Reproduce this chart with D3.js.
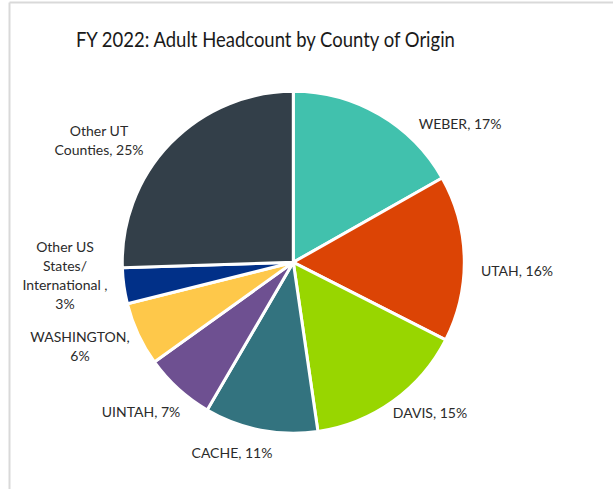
<!DOCTYPE html>
<html><head><meta charset="utf-8">
<script src="https://cdn.jsdelivr.net/npm/d3@7"></script>
<style>
html,body{margin:0;padding:0;background:#fff;}
text{font-family:Lato,"Open Sans",sans-serif;}
</style></head>
<body>
<svg id="chart" width="613" height="489"></svg>
<script>
// ---- data ----
const categories = ["WEBER","UTAH","DAVIS","CACHE","UINTAH","WASHINGTON","Other US States/ International ","Other UT Counties"];
const values = [16.8, 15.7, 15.2, 10.7, 6.7, 6.0, 3.4, 25.5];
const percentLabels = ["17%","16%","15%","11%","7%","6%","3%","25%"];
const colors = ["#41C1AD","#DC4405","#98D600","#33737F","#6E5091","#FEC84A","#013088","#333F49"];
// label text lines (as shown)
const labelLines = [
  ["WEBER, 17%"],
  ["UTAH, 16%"],
  ["DAVIS, 15%"],
  ["CACHE, 11%"],
  ["UINTAH, 7%"],
  ["WASHINGTON,","6%"],
  ["Other US","States/","International ,","3%"],
  ["Other UT","Counties, 25%"]
];
// ---- layout ----
const W = 613, H = 489;
const cx = 293.3, cy = 262.3, R = 171;
const labelAnchor = [[460,124],[517,271],[430,413],[232,453],[141,412],[80,346],[65,275],[99,140]];
const lineH = 19;

const svg = d3.select("#chart");
// border (top + left visible)
svg.append("line").attr("x1",9.5).attr("x2",613).attr("y1",2.5).attr("y2",2.5).attr("stroke","#d9d9d9").attr("stroke-width",2);
svg.append("line").attr("x1",9.5).attr("x2",9.5).attr("y1",2.5).attr("y2",489).attr("stroke","#d9d9d9").attr("stroke-width",2);

svg.append("text").attr("x",265.4).attr("y",46.7).attr("text-anchor","middle")
  .attr("font-size",20.5).attr("fill","#1a1a1a")
  .attr("textLength",379).attr("lengthAdjust","spacingAndGlyphs")
  .text("FY 2022: Adult Headcount by County of Origin");

const pie = d3.pie().sort(null).value(d=>d);
const arc = d3.arc().innerRadius(0).outerRadius(R);
const g = svg.append("g").attr("transform",`translate(${cx},${cy})`);
g.selectAll("path").data(pie(values)).join("path")
  .attr("d",arc).attr("fill",(d,i)=>colors[i])
  .attr("stroke","#fff").attr("stroke-width",3).attr("stroke-linejoin","round");

const lg = svg.append("g");
labelLines.forEach((lines,i)=>{
  const [x,y] = labelAnchor[i];
  const t = lg.append("text").attr("text-anchor","middle").attr("font-size",14).attr("fill","#2b2b2b");
  const y0 = y - (lines.length-1)*lineH/2 + 5;
  lines.forEach((s,j)=>{
    t.append("tspan").attr("x",x).attr("y",y0 + j*lineH).text(s);
  });
});
</script>
</body></html>
